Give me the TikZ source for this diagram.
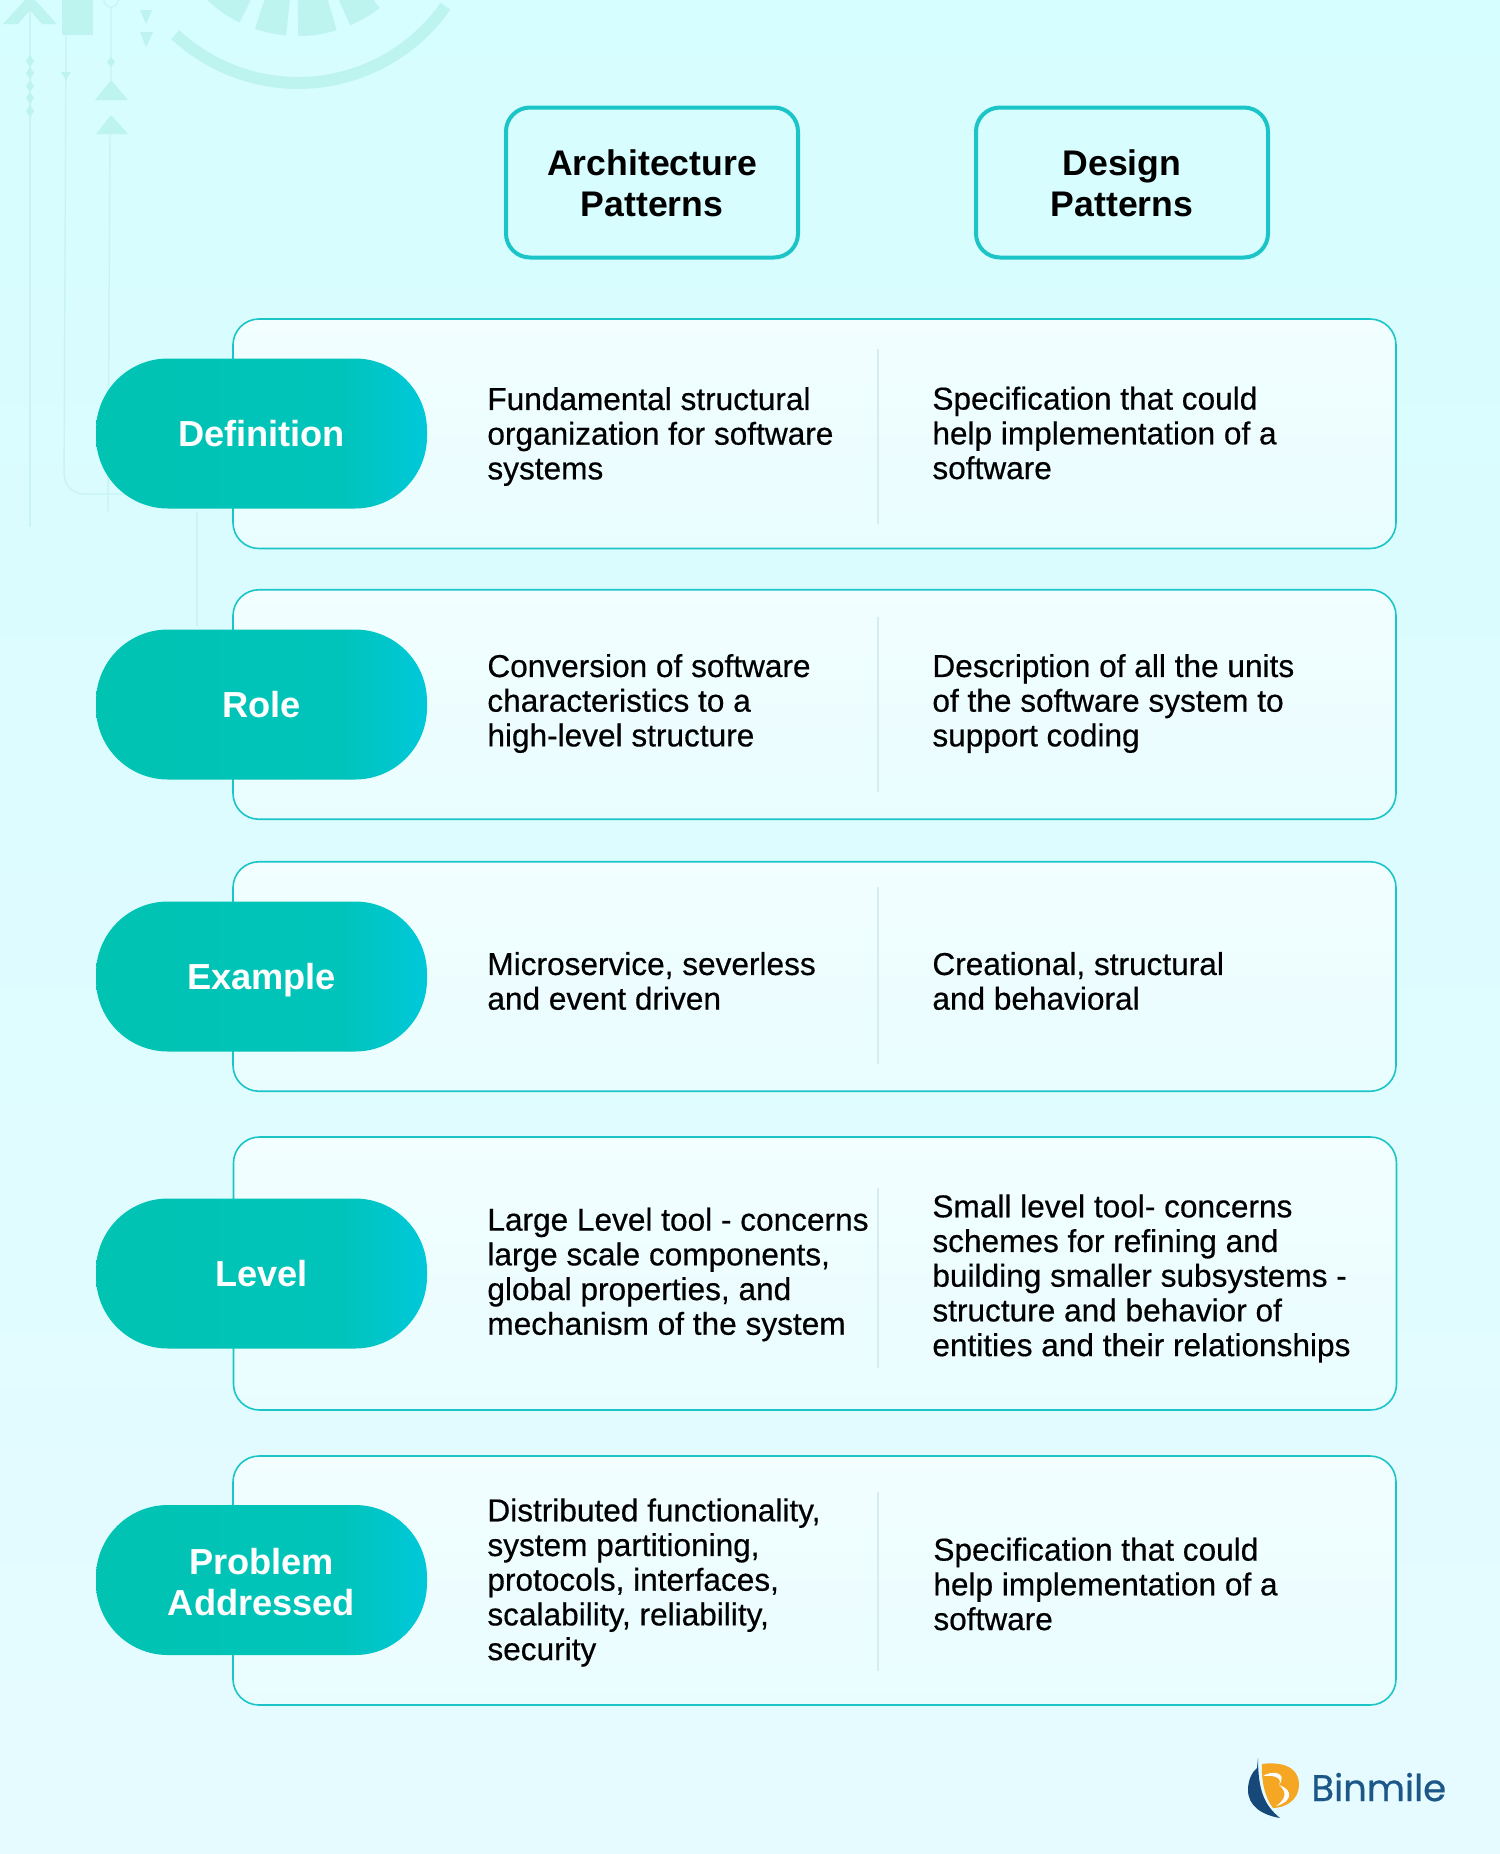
\documentclass[tikz,border=0pt]{standalone}
\usepackage{fontspec}
\setmainfont{Liberation Sans}
\newfontfamily\bodyfont[RawFeature={embolden=0.5}]{Liberation Sans}
\newfontfamily\logofont[RawFeature={embolden=0.6}]{Poppins}
\definecolor{bgtop}{HTML}{D6FDFF}
\definecolor{bgbot}{HTML}{E6FBFF}
\definecolor{rowtop}{HTML}{F2FEFF}
\definecolor{rowbot}{HTML}{E9FDFF}
\definecolor{edge}{HTML}{1BC5C7}
\definecolor{pillleft}{HTML}{00C3B2}
\definecolor{pillmid}{HTML}{00C4BA}
\definecolor{pillright}{HTML}{00C8DA}
\definecolor{faint}{HTML}{BDF4F0}
\definecolor{thinline}{HTML}{CAF3F3}
\definecolor{divcol}{HTML}{D7ECEC}
\definecolor{logodark}{HTML}{17487A}
\definecolor{logoorange}{HTML}{F5A623}
\definecolor{logotext}{HTML}{1D5788}
\usetikzlibrary{calc,positioning}
\pgfdeclarehorizontalshading{pillshade}{100bp}{color(0bp)=(pillleft); color(25bp)=(pillleft); color(62bp)=(pillmid); color(75bp)=(pillright); color(100bp)=(pillright)}
\tikzset{
  headbox/.style={draw=edge,line width=2pt,rounded corners=12pt,minimum width=146pt,minimum height=75pt,
    align=center,inner sep=0pt,font=\fontsize{17.8}{20.6}\selectfont\bfseries},
  rowbox/.style={draw=edge,line width=0.8pt,rounded corners=13pt,top color=rowtop,bottom color=rowbot,
    minimum width=581.5pt,inner sep=0pt},
  pill/.style={rounded corners=36pt,shading=pillshade,
    minimum width=165.5pt,minimum height=75pt,inner sep=0pt,align=center,text=white,
    font=\fontsize{18.1}{20.6}\selectfont\bfseries},
  celltext/.style={anchor=west,align=left,inner sep=0pt,font=\bodyfont\fontsize{15.8}{17.35}\selectfont},
  divider/.style={draw=divcol,line width=0.6pt},
  wheel/.style={draw=faint},
  thin/.style={draw=thinline,line width=0.7pt}
}
\begin{document}
\begin{tikzpicture}[x=0.5pt,y=-0.5pt]

\useasboundingbox (0,0) rectangle (1500,1854);
\clip (0,0) rectangle (1500,1854);
\shade[top color=bgtop,bottom color=bgbot] (0,0) rectangle (1500,1854);

% faint ornament
\draw[wheel,line width=6pt] plot[domain=35:133,samples=40] ({298+180*cos(\x)},{-97+180*sin(\x)});
\foreach \s/\e in {116/133,95/109,73/90,52/67}
	\draw[wheel,line width=18pt] plot[domain=\s:\e,samples=12] ({298+115*cos(\x)},{-97+115*sin(\x)});
\draw[thin] (30,10) -- (30,527);
\draw[thin,rounded corners=10pt] (66,35) -- (64,494) -- (125,494);
\draw[thin] (111,7) -- (111,80) (110,134) -- (108,512);
\draw[thin] (197,512) -- (197,626);
\fill[faint] (3,24) -- (25,0) -- (35,0) -- (57,24) -- (42,24) -- (30,10) -- (18,24) -- cycle;
\fill[faint] (62,0) rectangle (93,35);
\draw[thin] (111,0) circle[radius=7];
\fill[faint] (140,10) -- (152,10) -- (146,24) -- cycle (140,32) -- (153,32) -- (146,47) -- cycle;
\fill[faint] (111,80) -- (128,100) -- (95,100) -- cycle (111,115) -- (128,134) -- (96,134) -- cycle;
\foreach \y in {61,73,86,98,111}
	\fill[faint] (30,\y-6) -- (34,\y) -- (30,\y+6) -- (26,\y) -- cycle;
\fill[faint] (61,72) -- (71,72) -- (66,80) -- cycle;
\fill[faint] (111,57) -- (115,62) -- (111,67) -- (107,62) -- cycle;

% header
\node[headbox] (archhead) at (652,182.5) {\rule{0pt}{14pt}Architecture\\Patterns};
\node[headbox] (deshead) at (1122,182.5) {\rule{0pt}{14pt}Design\\Patterns};

% rows
\node[rowbox,minimum height=114.75pt] (r1) at (814.5,433.75) {};
\node[rowbox,minimum height=114.75pt] (r2) at (814.5,704.5) {};
\node[rowbox,minimum height=114.75pt] (r3) at (814.5,976.5) {};
\node[rowbox,minimum height=136.5pt] (r4) at (815,1273.5) {};
\node[rowbox,minimum height=124.5pt] (r5) at (814.5,1580.5) {};

\foreach \t/\b in {349/524,617/792,887/1064,1188/1368,1492/1671}
	\draw[divider] (878,\t) -- (878,\b);

\node[pill] (p1) at (261.5,433.5) {Definition};
\node[pill] (p2) at (261.5,704.5) {Role};
\node[pill,text height=13.2pt,text depth=0pt] (p3) at (261.5,976.5) {Example};
\node[pill] (p4) at (261.5,1273.5) {Level};
\node[pill] (p5) at (261.5,1580) {\rule{0pt}{15.4pt}Problem\\Addressed};

\node[celltext] (a1) at (487,436.5) {Fundamental structural\\organization for software\\systems};
\node[celltext] (b1) at (932,433) {Specification that could\\help implementation of a\\software};
\node[celltext] (a2) at (487,703.5) {Conversion of software\\characteristics to a\\high-level structure};
\node[celltext] (b2) at (932,703.5) {Description of all the units\\of the software system to\\support coding};
\node[celltext] (a3) at (487,981) {Microservice, severless\\and event driven};
\node[celltext] (b3) at (932,981) {Creational, structural\\and behavioral};
\node[celltext] (a4) at (487,1274.5) {Large Level tool - concerns\\large scale components,\\global properties, and\\mechanism of the system};
\node[celltext] (b4) at (932,1278.5) {Small level tool- concerns\\schemes for refining and\\building smaller subsystems -\\structure and behavior of\\entities and their relationships};
\node[celltext] (a5) at (487,1582.5) {Distributed functionality,\\system partitioning,\\protocols, interfaces,\\scalability, reliability,\\security};
\node[celltext] (b5) at (933,1584) {Specification that could\\help implementation of a\\software};

% logo
\fill[logodark] (1258,1758) .. controls (1258,1790) and (1264,1805) .. (1280,1818) .. controls (1262,1815) and (1248,1806) .. (1248,1790) .. controls (1248,1780) and (1252,1772) .. (1257,1768) -- cycle;
\fill[logoorange] (1262,1764) .. controls (1268,1763) and (1299,1760) .. (1299,1785) .. controls (1299,1800) and (1285,1808) .. (1273,1808) .. controls (1265,1798) and (1261,1780) .. (1262,1764) -- cycle;
\fill[white] (1263,1776) .. controls (1272,1770) and (1288,1772) .. (1279,1785) .. controls (1283,1777) and (1273,1775) .. (1263,1776) -- cycle;
\fill[white] (1279,1785) .. controls (1294,1790) and (1292,1802) .. (1276,1806) .. controls (1285,1800) and (1288,1792) .. (1279,1785) -- cycle;
\node[anchor=base west,inner sep=0pt,text=logotext,font=\logofont\fontsize{18.5}{20}\selectfont] (logo) at (1311,1801) {Binmile};

\end{tikzpicture}
\end{document}
